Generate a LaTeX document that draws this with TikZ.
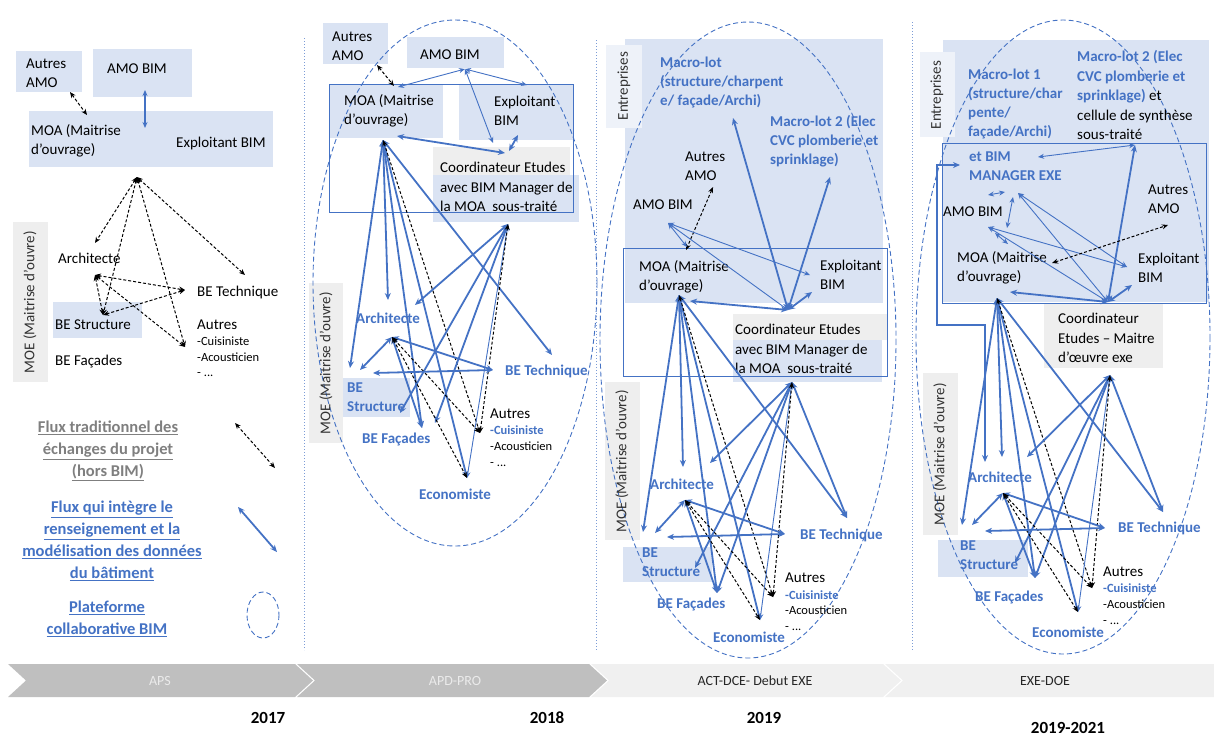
\documentclass[tikz,border=0pt]{standalone}
\usepackage{fontspec}
\setmainfont{Carlito}
\usepackage{tikz}
\usetikzlibrary{arrows.meta,positioning}
\definecolor{bimblue}{HTML}{4472C4}
\definecolor{boxblue}{HTML}{DAE3F3}
\definecolor{boxgray}{HTML}{EEEEEE}
\definecolor{entbox}{HTML}{EEF2F9}
\definecolor{legray}{HTML}{7F7F7F}
\tikzstyle{lbl}        = [anchor=west, align=left, inner sep=0pt, font=\fontsize{15}{19.5}\selectfont]
\tikzstyle{lblb}       = [lbl, text=bimblue, font=\fontsize{15}{19}\selectfont\bfseries]
\tikzstyle{lbls}       = [lbl, font=\fontsize{12.5}{15.5}\selectfont]
\tikzstyle{cuis}       = [lbl, text=bimblue, font=\fontsize{12.5}{15.5}\selectfont\bfseries]
\tikzstyle{vlbl}       = [rotate=90, inner sep=0pt, text=black!80, font=\fontsize{15}{18}\selectfont]
\tikzstyle{legd}       = [align=center, inner sep=0pt, font=\fontsize{16.5}{22}\selectfont\bfseries]
\tikzstyle{phasetxt}   = [inner sep=0pt, font=\fontsize{14}{16}\selectfont]
\tikzstyle{yeartxt}    = [inner sep=0pt, font=\fontsize{17}{20}\selectfont\bfseries]
\tikzstyle{flux}       = [bimblue, line width=1.8pt, <->, >={Stealth[length=7pt,width=6pt]}]
\tikzstyle{fluxt}      = [bimblue, line width=0.9pt, <->, >={Stealth[length=6pt,width=5pt]}]
\tikzstyle{tradi}      = [black, line width=1pt, dash pattern=on 3pt off 2pt, <->, >={Stealth[length=6pt,width=5pt]}]
\tikzstyle{plateforme} = [bimblue, line width=0.9pt, dash pattern=on 5pt off 3pt]
\tikzstyle{sep}        = [bimblue!70, line width=0.8pt, dash pattern=on 1pt off 2pt]

\begin{document}
\begin{tikzpicture}[x=1pt, y=-1pt]
        \useasboundingbox (0,0) rectangle (1214,740);

        % panel 1 (APS)
        \fill[boxblue] (16,51) rectangle (82,92);
        \fill[boxblue] (93,49) rectangle (192,97);
        \fill[boxblue] (29,111) rectangle (273,167);
        \fill[boxblue] (53,302) rectangle (142,338);
        \fill[boxgray] (13,222) rectangle (48,382);

        \node[lbl] (aAutresAMO) at (26,73) {Autres\\AMO};
        \node[lbl] (aAMOBIM) at (107,69) {AMO BIM};
        \node[lbl] (aMOA) at (31,141) {MOA (Maitrise\\d’ouvrage)};
        \node[lbl] (aExpl) at (176,143) {Exploitant BIM};
        \node[lbl] (aArchi) at (58,258) {Architecte};
        \node[lbl] (aBETech) at (197,292) {BE Technique};
        \node[lbl] (aBEStruct) at (55,325) {BE Structure};
        \node[lbl] (aBEFac) at (55,362) {BE Façades};
        \node[lbl] (aAutres) at (197,325) {Autres};
        \node[lbls] (aAutList) at (197,357) {-Cuisiniste\\-Acousticien\\- ...};
        \node[vlbl] (aMOE) at (30,302) {MOE (Maitrise d’ouvre)};

        \coordinate (aAMOb) at (145,90);
        \coordinate (aMOAt) at (145,128);
        \coordinate (aAutAb) at (70,92);
        \coordinate (aMOAl) at (87,115);
        \coordinate (aHub) at (137,177);
        \coordinate (aArT) at (95,243);
        \coordinate (aTecT) at (245,275);
        \coordinate (aStr) at (103,315);
        \coordinate (aAut) at (185,347);
        \coordinate (aArB) at (95,275);
        \coordinate (aTecL) at (185,290);

        \draw[bimblue, line width=1.2pt, <->, >={Stealth[length=6pt,width=5pt]}] (aAMOb) -- (aMOAt);
        \draw[tradi] (aAutAb) -- (aMOAl);
        \draw[tradi] (aHub) -- (aArT);
        \draw[tradi] (aHub) -- (aTecT);
        \draw[tradi] (aHub) -- (aStr);
        \draw[tradi] (aHub) -- (aAut);
        \draw[tradi] (aArB) -- (aTecL);
        \draw[tradi] (aArB) -- (aStr);
        \draw[tradi] (aArB) -- (aAut);
        \draw[tradi] (aStr) -- (aTecL);

        % legend
        \node[legd, text=legray] (lgTrad) at (108,451) {\underline{Flux traditionnel des}\\\underline{échanges du projet}\\\underline{(hors BIM)}};
        \node[legd, text=bimblue] (lgFlux) at (112,541) {\underline{Flux qui intègre le}\\\underline{renseignement et la}\\\underline{modélisation des données}\\\underline{du bâtiment}};
        \node[legd, text=bimblue] (lgPlat) at (107,619) {\underline{Plateforme}\\\underline{collaborative BIM}};
        \coordinate (lgA1) at (235,423);
        \coordinate (lgA2) at (275,468);
        \coordinate (lgB1) at (238,507);
        \coordinate (lgB2) at (277,552);
        \draw[tradi] (lgA1) -- (lgA2);
        \draw[flux] (lgB1) -- (lgB2);
        \draw[plateforme] (263,615) ellipse [x radius=16, y radius=23];

        % panel 2 (APD-PRO)
        \fill[boxblue] (323,23) rectangle (388,64);
        \fill[boxblue] (407,37) rectangle (504,68);
        \fill[boxblue] (329,84) rectangle (443,138);
        \fill[boxblue] (459,84) rectangle (573,140);
        \fill[boxgray] (433,147) rectangle (570,175);
        \fill[boxblue] (433,175) rectangle (579,222);
        \fill[boxblue] (342,378) rectangle (410,417);
        \fill[boxgray] (309,283) rectangle (343,443);
        \draw[bimblue, line width=1pt] (329,84) rectangle (573,212);
        \draw[plateforme] (455,283) ellipse [x radius=142, y radius=263];

        \node[lbl] (bAutresAMO) at (332,46) {Autres\\AMO};
        \node[lbl] (bAMOBIM) at (420,55) {AMO BIM};
        \node[lbl] (bMOA) at (344,111) {MOA (Maitrise\\d’ouvrage)};
        \node[lbl] (bExpl) at (494,111) {Exploitant\\BIM};
        \node[lbl] (bCoord) at (440,187) {Coordinateur Etudes\\avec BIM Manager de\\la MOA\ \ sous-traité};
        \node[lblb] (bArchi) at (356,318) {Architecte};
        \node[lblb] (bBETech) at (505,371) {BE Technique};
        \node[lblb] (bBEStruct) at (347,397) {BE\\Structure};
        \node[lblb] (bBEFac) at (362,439) {BE Façades};
        \node[lbl] (bAutres) at (490,414) {Autres};
        \node[cuis] (bAutCuis) at (490,430) {-Cuisiniste};
        \node[lbls] (bAutList) at (490,454) {-Acousticien\\- ...};
        \node[lblb] (bEco) at (419,494) {Economiste};
        \node[vlbl] (bMOE) at (326,363) {MOE (Maitrise d’ouvre)};

        \coordinate (bAutAb) at (377,65);
        \coordinate (bMOAt1) at (394,86);
        \coordinate (bAMOb) at (465,69);
        \coordinate (bMOAt2) at (398,87);
        \coordinate (bExpT) at (527,85);
        \coordinate (bCooT) at (493,143);
        \coordinate (bExpB) at (518,135);
        \coordinate (bCooT2) at (509,151);
        \coordinate (bMOAr) at (397,136);
        \coordinate (bCooL) at (505,153);
        \coordinate (bMOAh) at (383,140);
        \coordinate (bArT) at (388,300);
        \coordinate (bStL) at (350,368);
        \coordinate (bFac) at (422,428);
        \coordinate (bEco) at (467,478);
        \coordinate (bTec) at (552,355);
        \coordinate (bAut) at (480,433);
        \coordinate (bCooh) at (508,224);
        \coordinate (bArR) at (415,305);
        \coordinate (bStR) at (400,413);
        \coordinate (bFac2) at (435,423);
        \coordinate (bArh) at (392,337);
        \coordinate (bStT) at (360,370);
        \coordinate (bTecL) at (493,370);
        \coordinate (bStM) at (373,373);

        \draw[tradi] (bAutAb) -- (bMOAt1);
        \draw[fluxt] (bAMOb) -- (bMOAt2);
        \draw[fluxt] (bAMOb) -- (bExpT);
        \draw[fluxt] (bAMOb) -- (bCooT);
        \draw[flux] (bExpB) -- (bCooT2);
        \draw[flux] (bMOAr) -- (bCooL);
        \draw[flux] (bMOAh) -- (bArT);
        \draw[flux] (bMOAh) -- (bStL);
        \draw[flux] (bMOAh) -- (bFac);
        \draw[flux] (bMOAh) -- (bEco);
        \draw[flux] (bMOAh) -- (bTec);
        \draw[tradi] (bMOAh) -- (bAut);
        \draw[flux] (bCooh) -- (bArR);
        \draw[flux] (bCooh) -- (bStR);
        \draw[flux] (bCooh) -- (bFac2);
        \draw[fluxt] (bCooh) -- (bEco);
        \draw[tradi] (bCooh) -- (bAut);
        \draw[flux] (bArh) -- (bStT);
        \draw[flux] (bArh) -- (bTecL);
        \draw[flux] (bArh) -- (bFac);
        \draw[tradi] (bArh) -- (bAut);
        \draw[tradi] (bArh) -- (bEco);
        \draw[flux] (bStM) -- (bTecL);

        % panel 3 (ACT-DCE)
        \fill[boxblue] (625,39) rectangle (883,303);
        \fill[entbox] (606,45) rectangle (642,128);
        \fill[boxgray] (733,314) rectangle (887,340);
        \fill[boxblue] (733,340) rectangle (882,382);
        \fill[boxblue] (623,547) rectangle (712,582);
        \fill[boxgray] (605,382) rectangle (640,540);
        \draw[bimblue, line width=1pt] (623,248) rectangle (887,376);
        \draw[plateforme] (748,340) ellipse [x radius=148, y radius=318];

        \node[vlbl] (cEnt) at (624,86) {Entreprises};
        \node[lblb] (cML1) at (660,82) {Macro-lot\\(structure/charpent\\e/ façade/Archi)};
        \node[lblb] (cML2) at (770,141) {Macro-lot 2 (Elec\\CVC plomberie et\\sprinklage)};
        \node[lbl] (cAutresAMO) at (685,166) {Autres\\AMO};
        \node[lbl] (cAMOBIM) at (633,205) {AMO BIM};
        \node[lbl] (cMOA) at (639,277) {MOA (Maitrise\\d’ouvrage)};
        \node[lbl] (cExpl) at (820,275) {Exploitant\\BIM};
        \node[lbl] (cCoord) at (735,349) {Coordinateur Etudes\\avec BIM Manager de\\la MOA\ \ sous-traité};
        \node[lblb] (cArchi) at (650,484) {Architecte};
        \node[lblb] (cBETech) at (800,535) {BE Technique};
        \node[lblb] (cBEStruct) at (642,562) {BE\\Structure};
        \node[lblb] (cBEFac) at (657,604) {BE Façades};
        \node[lbl] (cAutres) at (785,578) {Autres};
        \node[cuis] (cAutCuis) at (785,595) {-Cuisiniste};
        \node[lbls] (cAutList) at (785,618) {-Acousticien\\- ...};
        \node[lblb] (cEco) at (713,637) {Economiste};
        \node[vlbl] (cMOE) at (622,461) {MOE (Maitrise d’ouvre)};

        \coordinate (cAutAb) at (713,187);
        \coordinate (cMOAt) at (686,250);
        \coordinate (cTop) at (788,310);
        \coordinate (cML1b) at (733,118);
        \coordinate (cML2b) at (830,177);
        \coordinate (cMOAr) at (690,301);
        \coordinate (cExp) at (812,292);
        \coordinate (cAMO) at (668,223);
        \coordinate (cExpL) at (810,275);
        \coordinate (cMOAt2) at (687,247);
        \coordinate (cMOAh) at (679,295);
        \coordinate (cStL) at (643,532);
        \coordinate (cArT) at (683,467);
        \coordinate (cFac) at (717,593);
        \coordinate (cEco) at (760,620);
        \coordinate (cTec) at (847,518);
        \coordinate (cAut) at (773,597);
        \coordinate (cBot) at (792,382);
        \coordinate (cArR) at (710,463);
        \coordinate (cStR) at (695,568);
        \coordinate (cArh) at (685,500);
        \coordinate (cStT) at (655,533);
        \coordinate (cTecL) at (785,534);
        \coordinate (cStM) at (667,537);

        \draw[tradi] (cAutAb) -- (cMOAt);
        \draw[flux] (cTop) -- (cML1b);
        \draw[flux] (cTop) -- (cML2b);
        \draw[flux] (cTop) -- (cMOAr);
        \draw[flux] (cTop) -- (cExp);
        \draw[fluxt] (cAMO) -- (cExpL);
        \draw[fluxt] (cAMO) -- (cTop);
        \draw[fluxt] (cAMO) -- (cMOAt2);
        \draw[flux] (cMOAh) -- (cStL);
        \draw[flux] (cMOAh) -- (cArT);
        \draw[flux] (cMOAh) -- (cFac);
        \draw[flux] (cMOAh) -- (cEco);
        \draw[flux] (cMOAh) -- (cTec);
        \draw[tradi] (cMOAh) -- (cAut);
        \draw[flux] (cBot) -- (cArR);
        \draw[flux] (cBot) -- (cStR);
        \draw[flux] (cBot) -- (cFac);
        \draw[flux] (cBot) -- (cTec);
        \draw[fluxt] (cBot) -- (cEco);
        \draw[tradi] (cBot) -- (cAut);
        \draw[flux] (cArh) -- (cStT);
        \draw[flux] (cArh) -- (cTecL);
        \draw[flux] (cArh) -- (cFac);
        \draw[tradi] (cArh) -- (cAut);
        \draw[tradi] (cArh) -- (cEco);
        \draw[flux] (cStM) -- (cTecL);

        % panel 4 (EXE-DOE)
        \fill[boxblue] (943,40) rectangle (1209,302);
        \fill[entbox] (920,52) rectangle (955,137);
        \fill[boxgray] (1044,303) rectangle (1163,368);
        \fill[boxblue] (938,540) rectangle (1028,577);
        \fill[boxgray] (923,373) rectangle (958,535);
        \draw[bimblue, line width=1pt] (942,143) rectangle (1206,303);
        \draw[plateforme] (1063,337) ellipse [x radius=147, y radius=317];

        \node[vlbl] (dEnt) at (937,95) {Entreprises};
        \node[lblb] (dML1) at (968,104) {Macro-lot 1\\(structure/char\\pente/\\façade/Archi)};
        \node[lbl] (dML2) at (1077,95) {{\color{bimblue}\bfseries Macro-lot 2 (Elec}\\{\color{bimblue}\bfseries CVC plomberie et}\\{\color{bimblue}\bfseries sprinklage)} et\\cellule de synthèse\\sous-traité};
        \node[lblb] (dBIMM) at (969,166) {et BIM\\MANAGER EXE};
        \node[lbl] (dAutresAMO) at (1148,199) {Autres\\AMO};
        \node[lbl] (dAMOBIM) at (943,212) {AMO BIM};
        \node[lbl] (dMOA) at (957,268) {MOA (Maitrise\\d’ouvrage)};
        \node[lbl] (dExpl) at (1138,268) {Exploitant\\BIM};
        \node[lbl] (dCoord) at (1058,338) {Coordinateur\\Etudes – Maitre\\d’œuvre exe};
        \node[lblb] (dArchi) at (968,477) {Architecte};
        \node[lblb] (dBETech) at (1118,528) {BE Technique};
        \node[lblb] (dBEStruct) at (960,555) {BE\\Structure};
        \node[lblb] (dBEFac) at (975,597) {BE Façades};
        \node[lbl] (dAutres) at (1103,572) {Autres};
        \node[cuis] (dAutCuis) at (1103,588) {-Cuisiniste};
        \node[lbls] (dAutList) at (1103,612) {-Acousticien\\- ...};
        \node[lblb] (dEco) at (1032,632) {Economiste};
        \node[vlbl] (dMOE) at (940,454) {MOE (Maitrise d’ouvre)};

        \coordinate (dTop) at (1108,302);
        \coordinate (dML2b) at (1135,145);
        \coordinate (dMOAr) at (1010,292);
        \coordinate (dExp) at (1132,285);
        \coordinate (dMan) at (1018,193);
        \coordinate (dAMO) at (988,227);
        \coordinate (dBIM) at (1038,157);
        \coordinate (dExpL) at (1127,267);
        \coordinate (dS1) at (988,195);
        \coordinate (dS2) at (1005,192);
        \coordinate (dS3) at (1013,197);
        \coordinate (dS4) at (1007,228);
        \coordinate (dS5) at (995,233);
        \coordinate (dS6) at (1008,244);
        \coordinate (dMOAr2) at (1052,263);
        \coordinate (dAutA) at (1168,225);
        \coordinate (dR1) at (960,165);
        \coordinate (dR2) at (985,325);
        \coordinate (dR3) at (937,325);
        \coordinate (dR4) at (937,165);
        \coordinate (dArT) at (985,462);
        \coordinate (dMOAh) at (997,298);
        \coordinate (dArT2) at (1002,457);
        \coordinate (dStL) at (962,525);
        \coordinate (dFac) at (1035,578);
        \coordinate (dEco) at (1078,612);
        \coordinate (dTec) at (1163,512);
        \coordinate (dAut) at (1092,588);
        \coordinate (dBot) at (1110,375);
        \coordinate (dArR) at (1027,457);
        \coordinate (dStR) at (1015,563);
        \coordinate (dArh) at (1003,493);
        \coordinate (dStT) at (972,525);
        \coordinate (dTecL) at (1105,528);
        \coordinate (dStM) at (985,531);

        \draw[flux] (dTop) -- (dML2b);
        \draw[flux] (dTop) -- (dMOAr);
        \draw[flux] (dTop) -- (dExp);
        \draw[fluxt] (dTop) -- (dMan);
        \draw[fluxt] (dTop) -- (dAMO);
        \draw[fluxt] (dML2b) -- (dBIM);
        \draw[fluxt] (dMan) -- (dExpL);
        \draw[fluxt] (dAMO) -- (dExpL);
        \draw[fluxt] (dS1) -- (dS2);
        \draw[fluxt] (dS3) -- (dS4);
        \draw[fluxt] (dS5) -- (dS6);
        \draw[tradi] (dMOAr2) -- (dAutA);
        \draw[flux] (dArT) -- (dR2) -- (dR3) -- (dR4) -- (dR1);
        \draw[flux] (dMOAh) -- (dArT2);
        \draw[flux] (dMOAh) -- (dStL);
        \draw[flux] (dMOAh) -- (dFac);
        \draw[flux] (dMOAh) -- (dEco);
        \draw[flux] (dMOAh) -- (dTec);
        \draw[tradi] (dMOAh) -- (dAut);
        \draw[flux] (dBot) -- (dArR);
        \draw[flux] (dBot) -- (dStR);
        \draw[flux] (dBot) -- (dFac);
        \draw[flux] (dBot) -- (dTec);
        \draw[fluxt] (dBot) -- (dEco);
        \draw[tradi] (dBot) -- (dAut);
        \draw[flux] (dArh) -- (dStT);
        \draw[flux] (dArh) -- (dTecL);
        \draw[flux] (dArh) -- (dFac);
        \draw[tradi] (dArh) -- (dAut);
        \draw[tradi] (dArh) -- (dEco);
        \draw[flux] (dStM) -- (dTecL);

        % separators
        \draw[sep] (304,38) -- (304,650);
        \draw[sep] (596,40) -- (596,650);
        \draw[sep] (912,22) -- (912,650);

        % phases
        \fill[black!25] (8,664) -- (295,664) -- (313,680.5) -- (295,697) -- (8,697) -- (26,680.5) -- cycle;
        \fill[black!25] (297,664) -- (589,664) -- (607,680.5) -- (589,697) -- (297,697) -- (315,680.5) -- cycle;
        \fill[black!6] (591,664) -- (883,664) -- (901,680.5) -- (883,697) -- (591,697) -- (609,680.5) -- cycle;
        \fill[black!6] (885,664) -- (1216,664) -- (1234,680.5) -- (1216,697) -- (885,697) -- (903,680.5) -- cycle;
        \node[phasetxt, text=black!8] (pAPS) at (160,681) {APS};
        \node[phasetxt, text=black!8] (pAPD) at (455,681) {APD-PRO};
        \node[phasetxt, text=black!85] (pACT) at (755,681) {ACT-DCE- Debut EXE};
        \node[phasetxt, text=black!85] (pEXE) at (1045,681) {EXE-DOE};
        \node[yeartxt] (y2017) at (268,718) {2017};
        \node[yeartxt] (y2018) at (547,718) {2018};
        \node[yeartxt] (y2019) at (764,718) {2019};
        \node[yeartxt] (y2021) at (1068,728) {2019-2021};
    \end{tikzpicture}
\end{document}
